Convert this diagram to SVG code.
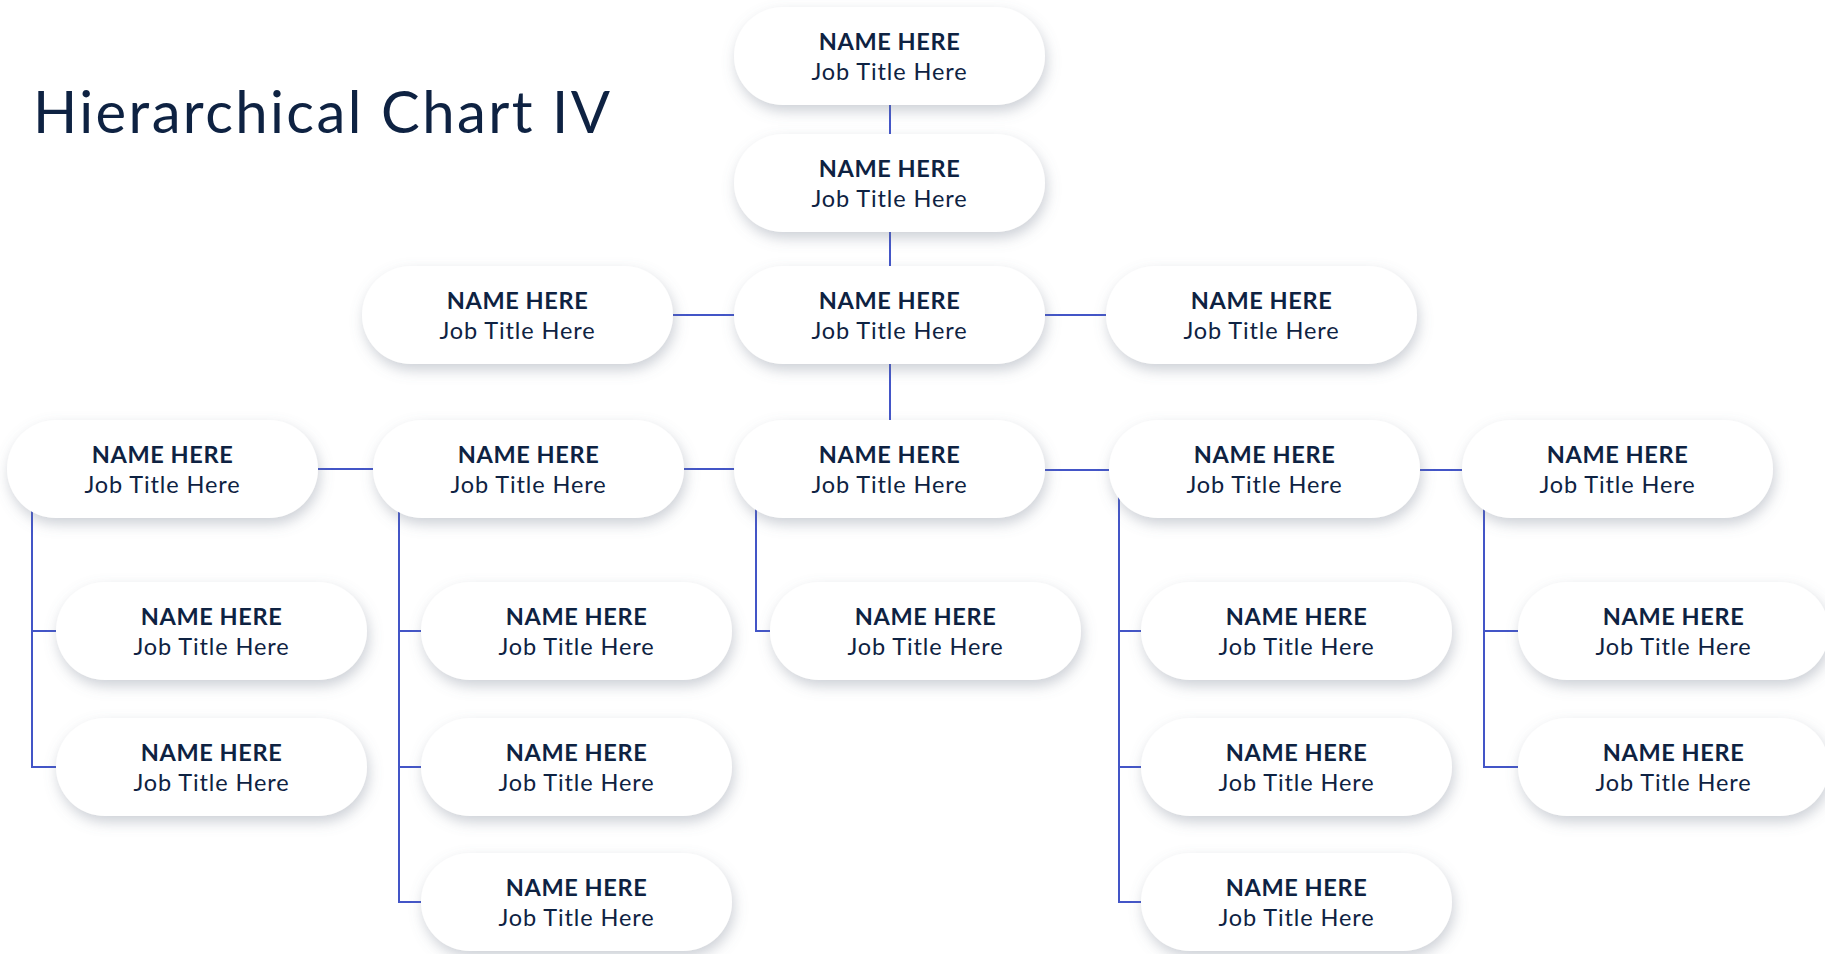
<svg xmlns="http://www.w3.org/2000/svg" width="1825" height="954" viewBox="0 0 1825 954">
  <defs>
    <filter id="soft" x="-20%" y="-40%" width="140%" height="190%">
      <feDropShadow dx="2" dy="6" stdDeviation="7" flood-color="#6f7a8c" flood-opacity="0.35"/>
    </filter>
    <style>
      .box { fill: #ffffff; filter: url(#soft); }
      .nm { font-family: Lato, "Liberation Sans", sans-serif; font-weight: 700; font-size: 23.5px; letter-spacing: 0.6px; fill: #0e2242; text-anchor: middle; }
      .jt { font-family: Lato, "Liberation Sans", sans-serif; font-weight: 400; font-size: 23.5px; letter-spacing: 0.9px; fill: #0e2242; text-anchor: middle; }
      .ln { fill: none; stroke: #4355c7; stroke-width: 2; }
      .title { font-family: Lato, "Liberation Sans", sans-serif; font-weight: 400; font-size: 58px; fill: #0e2242; }
    </style>
  </defs>
  <rect width="1825" height="954" fill="#ffffff"/>

  <text class="title" x="33" y="133" textLength="577" lengthAdjust="spacing">Hierarchical Chart IV</text>

  <g id="connectors">
    <path class="ln" d="M890 104 V134"/>
    <path class="ln" d="M890 232 V266"/>
    <path class="ln" d="M673 315 H735"/>
    <path class="ln" d="M1045 315 H1106"/>
    <path class="ln" d="M890 364 V420"/>
    <path class="ln" d="M318 469 H373"/>
    <path class="ln" d="M684 469 H735"/>
    <path class="ln" d="M1045 470 H1109"/>
    <path class="ln" d="M1420 470 H1462"/>
    <path class="ln" d="M32 469 V767 H56 M32 631 H56"/>
    <path class="ln" d="M399 469 V902 H421 M399 631 H421 M399 767 H421"/>
    <path class="ln" d="M756 469 V631 H770"/>
    <path class="ln" d="M1119 470 V902 H1141 M1119 631 H1141 M1119 767 H1141"/>
    <path class="ln" d="M1484 470 V767 H1518 M1484 631 H1518"/>
  </g>

  <g id="n-top">
    <rect class="box" x="734" y="7" width="311" height="98" rx="49"/>
    <text class="nm" x="889.5" y="50">NAME HERE</text>
    <text class="jt" x="889.5" y="80">Job Title Here</text>
  </g>
  <g id="n-second">
    <rect class="box" x="734" y="134" width="311" height="98" rx="49"/>
    <text class="nm" x="889.5" y="177">NAME HERE</text>
    <text class="jt" x="889.5" y="207">Job Title Here</text>
  </g>
  <g id="n-third-left">
    <rect class="box" x="362" y="266" width="311" height="98" rx="49"/>
    <text class="nm" x="517.5" y="309">NAME HERE</text>
    <text class="jt" x="517.5" y="339">Job Title Here</text>
  </g>
  <g id="n-third-center">
    <rect class="box" x="734" y="266" width="311" height="98" rx="49"/>
    <text class="nm" x="889.5" y="309">NAME HERE</text>
    <text class="jt" x="889.5" y="339">Job Title Here</text>
  </g>
  <g id="n-third-right">
    <rect class="box" x="1106" y="266" width="311" height="98" rx="49"/>
    <text class="nm" x="1261.5" y="309">NAME HERE</text>
    <text class="jt" x="1261.5" y="339">Job Title Here</text>
  </g>

  <g id="n-head-1">
    <rect class="box" x="7" y="420" width="311" height="98" rx="49"/>
    <text class="nm" x="162.5" y="463">NAME HERE</text>
    <text class="jt" x="162.5" y="493">Job Title Here</text>
  </g>
  <g id="n-head-2">
    <rect class="box" x="373" y="420" width="311" height="98" rx="49"/>
    <text class="nm" x="528.5" y="463">NAME HERE</text>
    <text class="jt" x="528.5" y="493">Job Title Here</text>
  </g>
  <g id="n-head-3">
    <rect class="box" x="734" y="420" width="311" height="98" rx="49"/>
    <text class="nm" x="889.5" y="463">NAME HERE</text>
    <text class="jt" x="889.5" y="493">Job Title Here</text>
  </g>
  <g id="n-head-4">
    <rect class="box" x="1109" y="420" width="311" height="98" rx="49"/>
    <text class="nm" x="1264.5" y="463">NAME HERE</text>
    <text class="jt" x="1264.5" y="493">Job Title Here</text>
  </g>
  <g id="n-head-5">
    <rect class="box" x="1462" y="420" width="311" height="98" rx="49"/>
    <text class="nm" x="1617.5" y="463">NAME HERE</text>
    <text class="jt" x="1617.5" y="493">Job Title Here</text>
  </g>

  <g id="n-c1-a">
    <rect class="box" x="56" y="582" width="311" height="98" rx="49"/>
    <text class="nm" x="211.5" y="625">NAME HERE</text>
    <text class="jt" x="211.5" y="655">Job Title Here</text>
  </g>
  <g id="n-c1-b">
    <rect class="box" x="56" y="718" width="311" height="98" rx="49"/>
    <text class="nm" x="211.5" y="761">NAME HERE</text>
    <text class="jt" x="211.5" y="791">Job Title Here</text>
  </g>

  <g id="n-c2-a">
    <rect class="box" x="421" y="582" width="311" height="98" rx="49"/>
    <text class="nm" x="576.5" y="625">NAME HERE</text>
    <text class="jt" x="576.5" y="655">Job Title Here</text>
  </g>
  <g id="n-c2-b">
    <rect class="box" x="421" y="718" width="311" height="98" rx="49"/>
    <text class="nm" x="576.5" y="761">NAME HERE</text>
    <text class="jt" x="576.5" y="791">Job Title Here</text>
  </g>
  <g id="n-c2-c">
    <rect class="box" x="421" y="853" width="311" height="98" rx="49"/>
    <text class="nm" x="576.5" y="896">NAME HERE</text>
    <text class="jt" x="576.5" y="926">Job Title Here</text>
  </g>

  <g id="n-c3-a">
    <rect class="box" x="770" y="582" width="311" height="98" rx="49"/>
    <text class="nm" x="925.5" y="625">NAME HERE</text>
    <text class="jt" x="925.5" y="655">Job Title Here</text>
  </g>

  <g id="n-c4-a">
    <rect class="box" x="1141" y="582" width="311" height="98" rx="49"/>
    <text class="nm" x="1296.5" y="625">NAME HERE</text>
    <text class="jt" x="1296.5" y="655">Job Title Here</text>
  </g>
  <g id="n-c4-b">
    <rect class="box" x="1141" y="718" width="311" height="98" rx="49"/>
    <text class="nm" x="1296.5" y="761">NAME HERE</text>
    <text class="jt" x="1296.5" y="791">Job Title Here</text>
  </g>
  <g id="n-c4-c">
    <rect class="box" x="1141" y="853" width="311" height="98" rx="49"/>
    <text class="nm" x="1296.5" y="896">NAME HERE</text>
    <text class="jt" x="1296.5" y="926">Job Title Here</text>
  </g>

  <g id="n-c5-a">
    <rect class="box" x="1518" y="582" width="311" height="98" rx="49"/>
    <text class="nm" x="1673.5" y="625">NAME HERE</text>
    <text class="jt" x="1673.5" y="655">Job Title Here</text>
  </g>
  <g id="n-c5-b">
    <rect class="box" x="1518" y="718" width="311" height="98" rx="49"/>
    <text class="nm" x="1673.5" y="761">NAME HERE</text>
    <text class="jt" x="1673.5" y="791">Job Title Here</text>
  </g>
</svg>
